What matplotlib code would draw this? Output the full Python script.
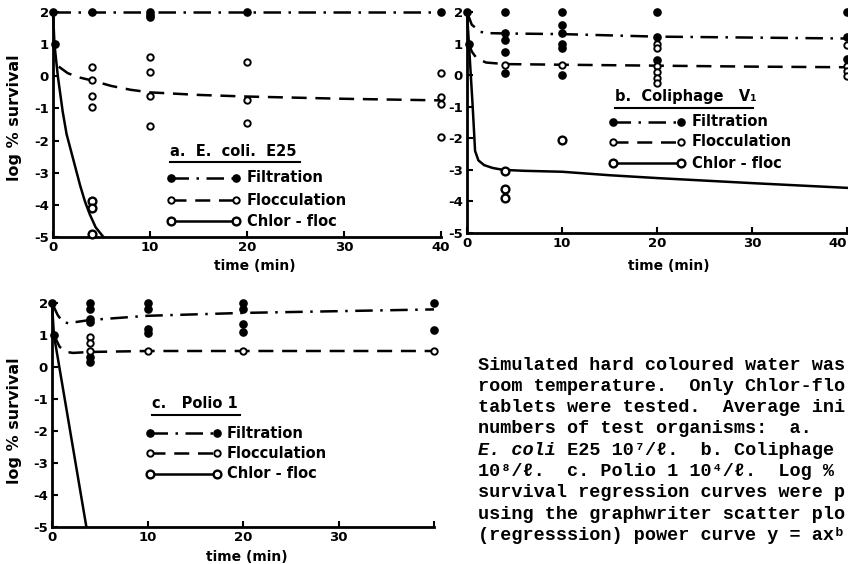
import matplotlib
matplotlib.use('Agg')
import matplotlib.pyplot as plt
from matplotlib.lines import Line2D

W, H = 848, 564
plt.rcParams['axes.unicode_minus'] = False
plt.rcParams['font.family'] = ['DejaVu Sans']
plt.rcParams['font.weight'] = 'bold'

# ---------------- data ----------------
x_ticks = [0, 10, 20, 30, 40]
y_ticks = [-5, -4, -3, -2, -1, 0, 1, 2]

# Panel a: E. coli E25
a_filt_t = [0, 0.2, 4, 10, 10, 10, 20, 40]
a_filt_y = [2.0, 1.0, 2.0, 2.0, 1.92, 1.85, 2.0, 2.0]
a_floc_t = [4, 4, 4, 4, 10, 10, 10, 10, 20, 20, 20, 40, 40, 40, 40]
a_floc_y = [0.28, -0.12, -0.6, -0.94, 0.6, 0.13, -0.62, -1.56, 0.43, -0.75, -1.45, 0.1, -0.65, -0.85, -1.9]
a_chlor_t = [4, 4, 4]
a_chlor_y = [-3.88, -4.1, -4.9]
a_filt_fit_t = [0, 40]
a_filt_fit_y = [2.0, 2.0]
a_floc_fit_t = [0.6, 1.5, 2.5, 4, 6, 8, 10, 15, 20, 30, 40]
a_floc_fit_y = [0.3, 0.1, -0.02, -0.13, -0.3, -0.42, -0.5, -0.58, -0.63, -0.7, -0.75]
a_chlor_fit_t = [0, 0.15, 0.5, 1.0, 1.4, 2.1, 2.8, 3.3, 3.8, 4.4, 5.2]
a_chlor_fit_y = [2.0, 1.0, 0.0, -1.1, -1.8, -2.6, -3.4, -3.9, -4.3, -4.7, -5.0]

# Panel b: Coliphage V1
b_filt_t = [0, 0.2, 4, 4, 4, 4, 4, 10, 10, 10, 10, 10, 10, 20, 20, 20, 40, 40, 40]
b_filt_y = [2.0, 1.0, 2.0, 1.34, 1.1, 0.73, 0.07, 2.0, 1.6, 1.33, 1.0, 0.85, 0.0, 2.0, 1.2, 0.48, 2.0, 1.2, 0.5]
b_floc_t = [4, 10, 20, 20, 20, 20, 20, 20, 40, 40, 40, 40]
b_floc_y = [0.32, 0.32, 1.0, 0.85, 0.3, 0.1, -0.08, -0.25, 0.95, 0.28, 0.12, -0.02]
b_chlor_t = [4, 4, 4, 10]
b_chlor_y = [-3.05, -3.6, -3.88, -2.05]
b_filt_fit_t = [0, 0.5, 1.4, 2.4, 4, 10, 20, 30, 40]
b_filt_fit_y = [2.0, 1.6, 1.37, 1.33, 1.32, 1.3, 1.22, 1.19, 1.16]
b_floc_fit_t = [0.2, 0.5, 1.0, 2.0, 4, 10, 20, 30, 40]
b_floc_fit_y = [1.0, 0.75, 0.54, 0.4, 0.35, 0.33, 0.3, 0.27, 0.25]
b_chlor_fit_t = [0, 0.3, 0.6, 0.85, 1.2, 1.8, 2.7, 3.8, 6, 10, 15, 20, 30, 40]
b_chlor_fit_y = [2.0, 0.5, -1.0, -2.4, -2.7, -2.85, -2.94, -3.0, -3.03, -3.06, -3.17, -3.26, -3.42, -3.57]

# Panel c: Polio 1
c_filt_t = [0, 0.2, 4, 4, 4, 4, 4, 4, 10, 10, 10, 10, 20, 20, 20, 20, 40, 40]
c_filt_y = [2.0, 1.0, 2.0, 1.8, 1.5, 1.4, 0.3, 0.15, 2.0, 1.8, 1.2, 1.05, 2.0, 1.8, 1.35, 1.1, 2.0, 1.15]
c_floc_t = [4, 4, 4, 10, 20, 40]
c_floc_y = [0.95, 0.75, 0.5, 0.5, 0.5, 0.5]
c_filt_fit_t = [0, 0.6, 1.15, 1.7, 4, 10, 20, 40]
c_filt_fit_y = [2.0, 1.62, 1.4, 1.37, 1.47, 1.6, 1.69, 1.8]
c_floc_fit_t = [0.2, 0.8, 1.5, 2.2, 4, 10, 20, 40]
c_floc_fit_y = [1.0, 0.63, 0.47, 0.44, 0.47, 0.5, 0.5, 0.5]
c_chlor_fit_t = [0, 0.2, 3.6]
c_chlor_fit_y = [2.0, 1.0, -5.0]

legend_labels = ['Filtration', 'Flocculation', 'Chlor - floc']
titles = ['a.  E.  coli.  E25', 'b.  Coliphage   V\u2081', 'c.   Polio 1']

caption_lines = [
    "Simulated hard coloured water was",
    "room temperature.  Only Chlor-flo",
    "tablets were tested.  Average ini",
    "numbers of test organisms:  a.",
    None,
    "10\u2078/\u2113.  c. Polio 1 10\u2074/\u2113.  Log %",
    "survival regression curves were p",
    "using the graphwriter scatter plo",
    "(regresssion) power curve y = ax\u1d47",
]

# ---------------- figure ----------------
fig = plt.figure(figsize=(8.48, 5.64), dpi=100)


def axes_px(x0, x1, y_top, y_bot):
    return fig.add_axes([x0 / W, 1 - y_bot / H, (x1 - x0) / W, (y_bot - y_top) / H])


def fx(x):
    return x / W


def fy(y):
    return 1 - y / H


DASHDOT = (0, (7, 3, 1, 3))
DASHED = (0, (6, 3.5))
filt_kw = dict(ls='none', marker='o', ms=5.2, mfc='black', mec='black', clip_on=False, zorder=4)
floc_kw = dict(ls='none', marker='o', ms=4.6, mfc='white', mec='black', mew=1.4, clip_on=False, zorder=4)
chlor_kw = dict(ls='none', marker='o', ms=5.6, mfc='white', mec='black', mew=1.7, clip_on=False, zorder=4)


def style(ax, xlabels):
    ax.set_xlim(0, 40)
    ax.set_ylim(-5, 2)
    for s in ('top', 'right'):
        ax.spines[s].set_visible(False)
    for s in ('left', 'bottom'):
        ax.spines[s].set_linewidth(2)
    ax.set_xticks(x_ticks)
    ax.set_xticklabels([str(v) if v in xlabels else '' for v in x_ticks])
    ax.set_yticks(y_ticks)
    ax.set_yticklabels([str(v) for v in y_ticks])
    ax.tick_params(direction='in', length=4, width=1.5, labelsize=9.5, pad=3)
    for lab in ax.get_xticklabels() + ax.get_yticklabels():
        lab.set_fontweight('bold')
    ax.patch.set_alpha(0)


def draw(ax, ft, fyv, fl_t, fl_y, ch_t, ch_y, fft, ffy, flt, fly, cht, chy):
    ax.plot(fft, ffy, color='black', lw=1.8, ls=DASHDOT, clip_on=False)
    ax.plot(flt, fly, color='black', lw=1.8, ls=DASHED, clip_on=False)
    ax.plot(cht, chy, color='black', lw=1.8, ls='-', clip_on=False)
    ax.plot(ft, fyv, **filt_kw)
    ax.plot(fl_t, fl_y, **floc_kw)
    if ch_t:
        ax.plot(ch_t, ch_y, **chlor_kw)


ax_a = axes_px(53, 441, 12, 237)
ax_b = axes_px(467, 847, 12, 233)
ax_c = axes_px(52, 434, 303, 527)

style(ax_a, [0, 10, 20, 30, 40])
style(ax_b, [0, 10, 20, 30, 40])
style(ax_c, [0, 10, 20, 30])
# the last label of panel b sits at the page edge: keep it inside
ax_b.get_xticklabels()[-1].set_horizontalalignment('right')

draw(ax_a, a_filt_t, a_filt_y, a_floc_t, a_floc_y, a_chlor_t, a_chlor_y,
     a_filt_fit_t, a_filt_fit_y, a_floc_fit_t, a_floc_fit_y, a_chlor_fit_t, a_chlor_fit_y)
draw(ax_b, b_filt_t, b_filt_y, b_floc_t, b_floc_y, b_chlor_t, b_chlor_y,
     b_filt_fit_t, b_filt_fit_y, b_floc_fit_t, b_floc_fit_y, b_chlor_fit_t, b_chlor_fit_y)
draw(ax_c, c_filt_t, c_filt_y, c_floc_t, c_floc_y, [], [],
     c_filt_fit_t, c_filt_fit_y, c_floc_fit_t, c_floc_fit_y, c_chlor_fit_t, c_chlor_fit_y)

# axis labels
lab_kw = dict(fontsize=10, fontweight='bold', ha='center', va='center')
fig.text(fx(255), fy(266), 'time (min)', **lab_kw)
fig.text(fx(669), fy(266), 'time (min)', **lab_kw)
fig.text(fx(247), fy(557), 'time (min)', **lab_kw)
ylab_kw = dict(fontsize=11.5, fontweight='bold', ha='center', va='center', rotation=90)
fig.text(fx(15), fy(118), 'log % survival', **ylab_kw)
fig.text(fx(15), fy(421), 'log % survival', **ylab_kw)


# legends (drawn as in the original figure)
def legend(title, tx0, tx1, ty, rows_y, lx0, lx1, textx):
    fig.text(fx(tx0), fy(ty), title, fontsize=10.5, fontweight='bold', ha='left', va='center')
    fig.add_artist(Line2D([fx(tx0), fx(tx1)], [fy(ty + 11)] * 2, color='black', lw=1.5,
                          transform=fig.transFigure))
    specs = [
        dict(ls=DASHDOT, marker='o', ms=5.2, mfc='black', mec='black'),
        dict(ls=DASHED, marker='o', ms=4.6, mfc='white', mec='black', mew=1.4),
        dict(ls='-', marker='o', ms=5.6, mfc='white', mec='black', mew=1.7),
    ]
    for yy, sp, lab in zip(rows_y, specs, legend_labels):
        fig.add_artist(Line2D([fx(lx0), fx(lx1)], [fy(yy)] * 2, color='black', lw=1.8,
                              transform=fig.transFigure, **sp))
        fig.text(fx(textx), fy(yy), lab, fontsize=10.5, fontweight='bold', ha='left', va='center')


legend(titles[0], 170, 300, 151, [178, 200, 221], 171, 236, 247)
legend(titles[1], 615, 753, 97, [122, 142, 163], 613, 681, 692)
legend(titles[2], 152, 240, 404, [433, 453, 474], 150, 217, 227)

# caption text block (typewriter)
mono = ['Liberation Mono', 'DejaVu Sans Mono']
cap_x = 478
cap_y0 = 365
cap_dy = 21.3
fs = 13.3
char_w = 0.6 * fs * 100 / 72
for i, line in enumerate(caption_lines):
    yy = fy(cap_y0 + i * cap_dy)
    if line is None:
        fig.text(fx(cap_x), yy, 'E. coli', family=mono, fontsize=fs, fontweight='bold',
                 style='italic', ha='left', va='center')
        fig.text(fx(cap_x + 7 * char_w), yy, ' E25 10\u2077/\u2113.  b. Coliphage', family=mono,
                 fontsize=fs, fontweight='bold', ha='left', va='center')
    else:
        fig.text(fx(cap_x), yy, line, family=mono, fontsize=fs, fontweight='bold',
                 ha='left', va='center')

fig.savefig('out.png', dpi=100)
